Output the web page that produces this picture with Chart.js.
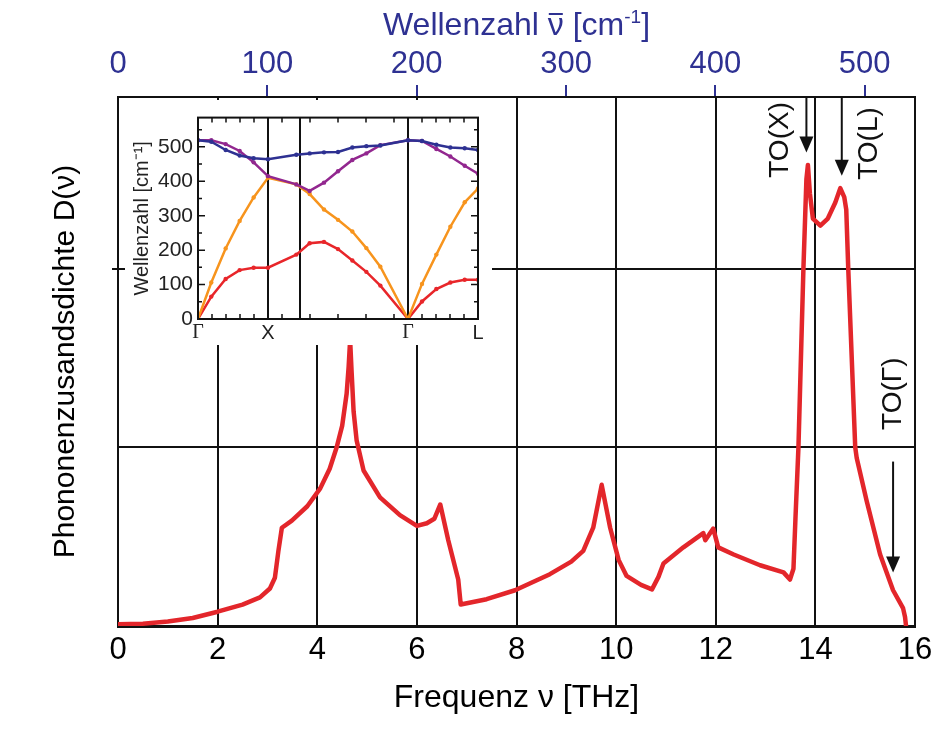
<!DOCTYPE html>
<html>
<head>
<meta charset="utf-8">
<script src="https://cdn.jsdelivr.net/npm/chart.js@4.4.1/dist/chart.umd.min.js"></script>
<style>
  body { margin: 0; background: #fff; }
  #wrap { position: relative; width: 940px; height: 737px; }
  #main { position: absolute; left: 0; top: 0; }
  #inset { position: absolute; left: 125px; top: 100px; background: #fff; }
</style>
</head>
<body>
<div id="wrap">
  <canvas id="main" width="940" height="737"></canvas>
  <canvas id="inset" width="367" height="245"></canvas>
</div>
<script>
// main plot: phonon density of states vs frequency (THz), arbitrary units
const freq = [0, 0.5, 1.0, 1.5, 2.0, 2.5, 2.85, 3.05, 3.15, 3.22, 3.29, 3.49, 3.8, 4.06, 4.25, 4.39, 4.5, 4.59, 4.63, 4.66,
  4.69, 4.73, 4.79, 4.93, 5.26, 5.66, 6.0, 6.2, 6.35, 6.47, 6.63, 6.83, 6.88, 7.4, 7.97, 8.67, 9.1, 9.34, 9.54, 9.71,
  9.88, 10.05, 10.21, 10.5, 10.72, 10.85, 10.95, 11.35, 11.75, 11.79, 11.95, 12.05, 12.36, 12.89, 13.36, 13.49, 13.56, 13.6, 13.66, 13.76,
  13.82, 13.85, 13.89, 13.95, 14.1, 14.25, 14.4, 14.5, 14.58, 14.62, 14.66, 14.8, 14.83, 15.03, 15.3, 15.56, 15.76, 15.8, 15.82];
const dos = [0.01, 0.013, 0.025, 0.045, 0.08, 0.12, 0.16, 0.21, 0.27, 0.42, 0.55, 0.59, 0.67, 0.77, 0.88, 1.0, 1.12, 1.3, 1.45, 1.6,
  1.42, 1.2, 1.04, 0.87, 0.72, 0.62, 0.56, 0.575, 0.6, 0.68, 0.48, 0.26, 0.12, 0.15, 0.2, 0.29, 0.36, 0.42, 0.55, 0.79,
  0.55, 0.37, 0.28, 0.23, 0.205, 0.275, 0.35, 0.44, 0.52, 0.48, 0.545, 0.44, 0.40, 0.34, 0.30, 0.26, 0.32, 0.6, 1.0, 2.0,
  2.5, 2.58, 2.42, 2.28, 2.24, 2.28, 2.37, 2.45, 2.4, 2.33, 2.0, 1.0, 0.94, 0.70, 0.40, 0.20, 0.10, 0.05, 0.0];
const freqTicks = [0, 2, 4, 6, 8, 10, 12, 14, 16];
const waveTicks = [0, 100, 200, 300, 400, 500];
const dosGrid = [0, 1, 2];
const THZ_TO_CM = 33.356;

// annotations: label, x (THz), arrow from / to (DOS units)
const peakLabels = ['TO(X)', 'TO(L)', 'TO(Γ)'];
const peakArrowX = [13.82, 14.53, 15.56];
const peakArrowFrom = [2.96, 2.96, 0.92];
const peakArrowTo = [2.65, 2.52, 0.3];
const peakTextX = [13.3, 15.08, 15.56];
const peakTextY = [2.72, 2.7, 1.3];

// inset: dispersion along Γ-X-K-Γ-L (cm^-1)
const kPath = [0, 0.19, 0.395, 0.595, 0.795, 1.0, 1.405, 1.595, 1.8, 2.0, 2.205, 2.405, 2.605, 3.0, 3.2, 3.405, 3.605, 3.81, 4.0];
const branchTA = [0, 65, 116, 142, 149, 149, 187, 220, 224, 203, 170, 137, 97, 0, 51, 87, 106, 114, 114];
const branchLA = [0, 106, 205, 285, 353, 410, 391, 363, 318, 288, 254, 206, 152, 0, 102, 187, 268, 339, 379];
const branchLO = [519, 519, 508, 488, 455, 415, 391, 372, 396, 429, 462, 481, 505, 519, 517, 494, 472, 445, 422];
const branchTO = [519, 515, 491, 475, 467, 464, 477, 481, 484, 485, 498, 502, 504, 519, 517, 506, 498, 496, 491];
const kTicks = [0, 1, 1.457, 3, 4];
const kLabels = ['Γ', 'X', '', 'Γ', 'L'];
const kMinor = [0.2, 0.4, 0.6, 0.8, 1.2, 1.6, 2.0, 2.4, 2.8, 3.2, 3.4, 3.6, 3.8];
const insetTicks = [0, 100, 200, 300, 400, 500];
const insetMinor = [50, 150, 250, 350, 450, 550];

const SANS = "'Liberation Sans', Arial, sans-serif";
const BLUE = '#2e3192';

const annotate = {
  id: 'annotate',
  afterDatasetsDraw(chart) {
    const {ctx, scales: {x, y}} = chart;
    ctx.save();
    ctx.strokeStyle = '#111';
    ctx.fillStyle = '#111';
    ctx.lineWidth = 2;
    peakLabels.forEach((lab, i) => {
      const px = x.getPixelForValue(peakArrowX[i]);
      const y0 = y.getPixelForValue(peakArrowFrom[i]);
      const y1 = y.getPixelForValue(peakArrowTo[i]);
      ctx.beginPath();
      ctx.moveTo(px, y0);
      ctx.lineTo(px, y1 - 10);
      ctx.stroke();
      ctx.beginPath();
      ctx.moveTo(px, y1);
      ctx.lineTo(px - 7, y1 - 16);
      ctx.lineTo(px + 7, y1 - 16);
      ctx.closePath();
      ctx.fill();
      ctx.save();
      ctx.translate(x.getPixelForValue(peakTextX[i]), y.getPixelForValue(peakTextY[i]));
      ctx.rotate(-Math.PI / 2);
      ctx.font = '28px ' + SANS;
      ctx.textAlign = 'center';
      ctx.textBaseline = 'middle';
      ctx.fillText(lab, 0, 0);
      ctx.restore();
    });
    ctx.restore();
  }
};

// top axis title with overlined nu and superscript
const topTitle = {
  id: 'topTitle',
  afterDraw(chart) {
    const {ctx, chartArea: a} = chart;
    const big = '32px ' + SANS, small = '19px ' + SANS;
    const parts = [['Wellenzahl ', big, 0], ['ν', big, 0], [' [cm', big, 0], ['-1', small, -12], [']', big, 0]];
    ctx.save();
    let w = 0;
    parts.forEach(p => { ctx.font = p[1]; w += ctx.measureText(p[0]).width; });
    let cx = (a.left + a.right) / 2 - w / 2;
    const base = 35;
    ctx.fillStyle = BLUE;
    ctx.strokeStyle = BLUE;
    ctx.textBaseline = 'alphabetic';
    parts.forEach((p, i) => {
      ctx.font = p[1];
      const pw = ctx.measureText(p[0]).width;
      ctx.fillText(p[0], cx, base + p[2]);
      if (i === 1) {
        ctx.lineWidth = 2;
        ctx.beginPath();
        ctx.moveTo(cx + 1, base - 21);
        ctx.lineTo(cx + pw - 1, base - 21);
        ctx.stroke();
      }
      cx += pw;
    });
    ctx.restore();
  }
};

new Chart(document.getElementById('main'), {
  type: 'line',
  data: {
    datasets: [{
      data: freq.map((f, i) => ({x: f, y: dos[i]})),
      borderColor: '#e3262b',
      borderWidth: 4.5,
      pointRadius: 0,
      tension: 0,
      borderJoinStyle: 'round',
      borderCapStyle: 'round'
    }]
  },
  options: {
    responsive: false,
    animation: false,
    plugins: {legend: {display: false}, tooltip: {enabled: false}},
    layout: {padding: {left: 0, right: 25, top: 0, bottom: 0}},
    scales: {
      x: {
        type: 'linear', position: 'bottom', min: 0, max: 16,
        afterBuildTicks: s => { s.ticks = freqTicks.map(v => ({value: v})); },
        afterFit: s => { s.height = 111; },
        ticks: {color: '#000', font: {size: 31, family: SANS}, padding: 6, maxRotation: 0},
        grid: {color: '#111', lineWidth: 2, drawTicks: false},
        border: {color: '#111', width: 3},
        title: {display: true, text: 'Frequenz ν [THz]', color: '#000',
          font: {size: 32, family: SANS}, padding: {top: 0, bottom: 20}}
      },
      x2: {
        type: 'linear', position: 'top', min: 0, max: 16 * THZ_TO_CM,
        afterBuildTicks: s => { s.ticks = waveTicks.map(v => ({value: v})); },
        afterFit: s => { s.height = 97; },
        ticks: {color: BLUE, font: {size: 31, family: SANS}, padding: 2, maxRotation: 0},
        grid: {drawOnChartArea: false, tickLength: 12, lineWidth: 2,
          color: c => c.tick && c.tick.value === 0 ? 'rgba(0,0,0,0)' : BLUE},
        border: {color: '#111', width: 2}
      },
      y: {
        min: 0, max: 2.96,
        afterBuildTicks: s => { s.ticks = dosGrid.map(v => ({value: v})); },
        afterFit: s => { s.width = 118; },
        ticks: {display: false},
        grid: {color: '#111', lineWidth: 2, tickLength: 6,
          tickColor: c => c.tick && c.tick.value === 2 ? '#111' : 'rgba(0,0,0,0)'},
        border: {color: '#111', width: 2},
        title: {display: true, text: 'Phononenzusandsdichte D(ν)', color: '#000',
          font: {size: 30, family: SANS}, padding: {top: 48, bottom: 0}}
      },
      y2: {
        position: 'right', min: 0, max: 2.96,
        afterFit: s => { s.width = 0; },
        ticks: {display: false},
        grid: {display: false},
        border: {color: '#111', width: 2}
      }
    }
  },
  plugins: [annotate, topTitle]
});

// inset frame with inward ticks
const frame = {
  id: 'frame',
  afterDatasetsDraw(chart) {
    const {ctx, chartArea: a, scales: {x, y}} = chart;
    ctx.save();
    ctx.strokeStyle = '#111';
    ctx.lineWidth = 2;
    ctx.strokeRect(a.left, a.top, a.right - a.left, a.bottom - a.top);
    ctx.lineWidth = 1.5;
    ctx.beginPath();
    insetTicks.concat(insetMinor).forEach((v, i) => {
      const py = y.getPixelForValue(v);
      const len = i < insetTicks.length ? 7 : 4;
      ctx.moveTo(a.left, py); ctx.lineTo(a.left + len, py);
      ctx.moveTo(a.right, py); ctx.lineTo(a.right - len, py);
    });
    kMinor.forEach(v => {
      const px = x.getPixelForValue(v);
      ctx.moveTo(px, a.bottom); ctx.lineTo(px, a.bottom - 5);
      ctx.moveTo(px, a.top); ctx.lineTo(px, a.top + 5);
    });
    ctx.stroke();
    ctx.restore();
  }
};

const branch = (vals, color) => ({
  data: kPath.map((k, i) => ({x: k, y: vals[i]})),
  borderColor: color,
  backgroundColor: color,
  borderWidth: 2.5,
  pointRadius: 2.2,
  pointBorderWidth: 0,
  tension: 0
});

new Chart(document.getElementById('inset'), {
  type: 'line',
  data: {
    datasets: [
      branch(branchTO, '#2e3192'),
      branch(branchLO, '#92278f'),
      branch(branchLA, '#f7941d'),
      branch(branchTA, '#e8262a')
    ]
  },
  options: {
    responsive: false,
    animation: false,
    plugins: {legend: {display: false}, tooltip: {enabled: false}},
    layout: {padding: {left: 0, right: 14, top: 14, bottom: 0}},
    scales: {
      x: {
        type: 'linear', min: 0, max: 4,
        afterBuildTicks: s => { s.ticks = kTicks.map(v => ({value: v})); },
        afterFit: s => { s.height = 26; },
        ticks: {color: '#222', padding: 2, maxRotation: 0,
          font: c => ({size: 20, family: c.index === 1 || c.index === 4 ? SANS : "'Liberation Serif', serif"}),
          callback: (v, i) => kLabels[i]},
        grid: {color: '#111', lineWidth: 2, drawTicks: false},
        border: {color: '#111', width: 2}
      },
      y: {
        min: 0, max: 585,
        afterBuildTicks: s => { s.ticks = insetTicks.map(v => ({value: v})); },
        afterFit: s => { s.width = 73; },
        ticks: {color: '#222', font: {size: 21, family: SANS}, padding: 5},
        grid: {display: false, drawTicks: false},
        border: {color: '#111', width: 2},
        title: {display: true, text: 'Wellenzahl [cm⁻¹]', color: '#222',
          font: {size: 20, family: SANS}, padding: {top: 5, bottom: 0}}
      }
    }
  },
  plugins: [frame]
});
</script>
</body>
</html>
